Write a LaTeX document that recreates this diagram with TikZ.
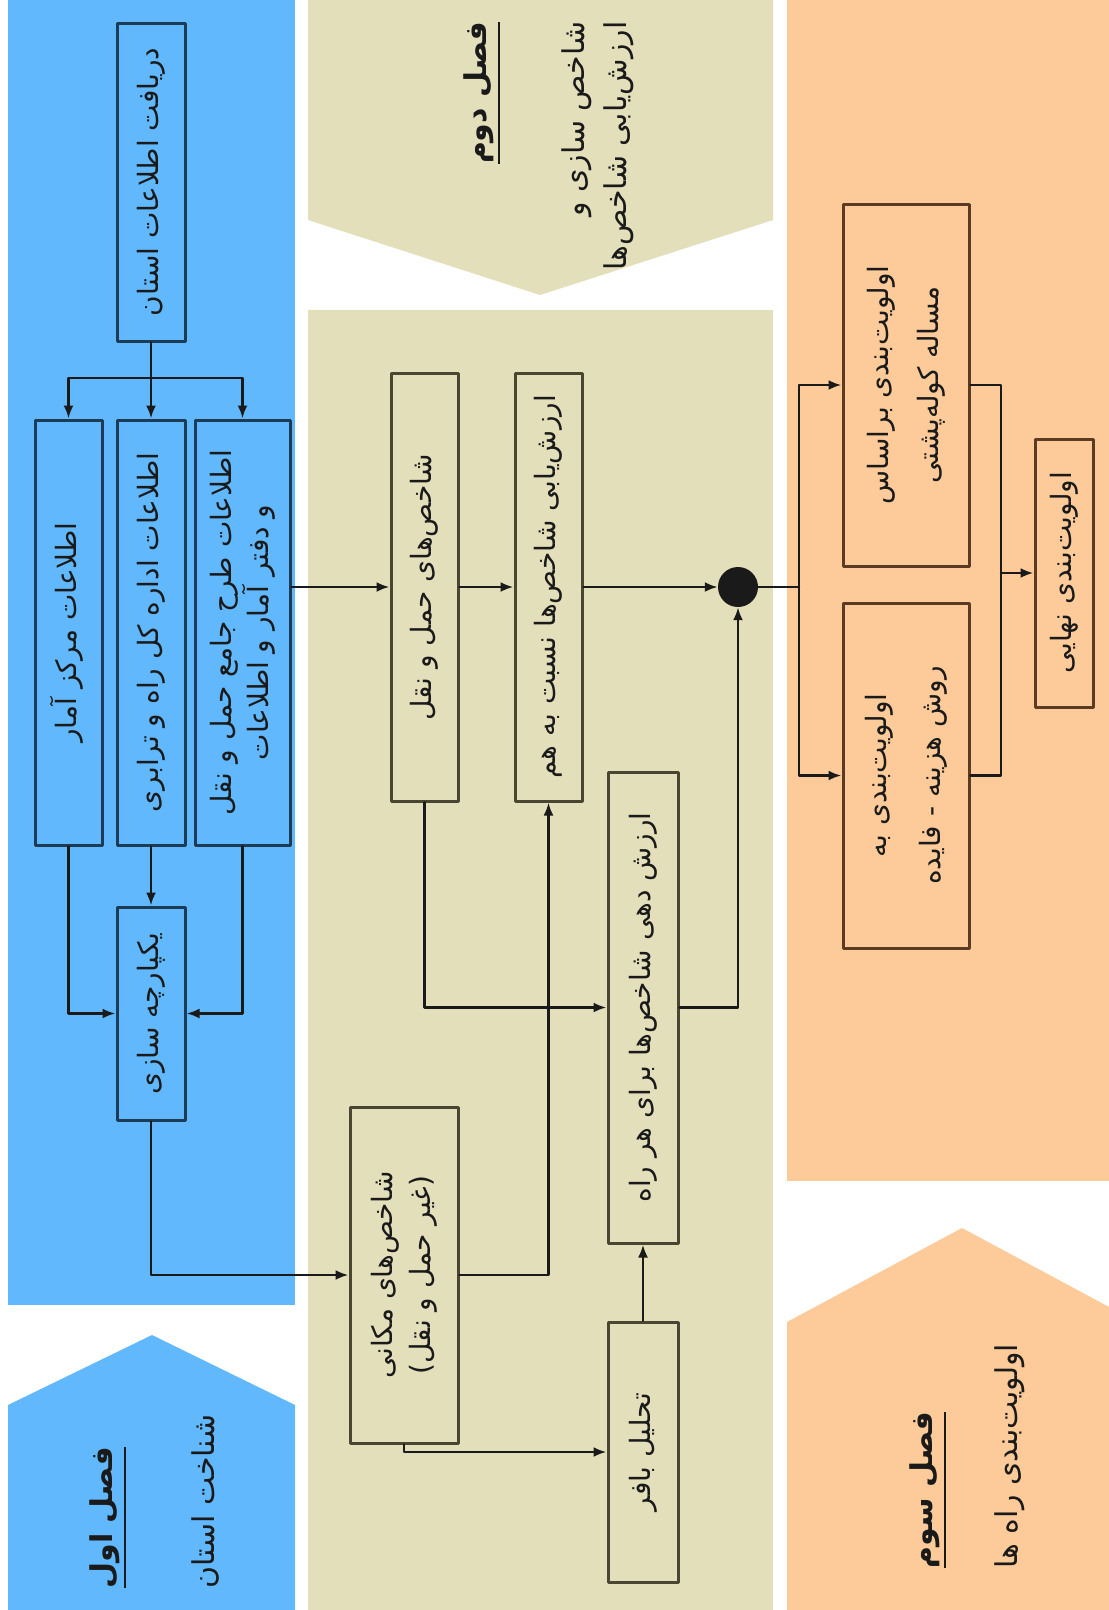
\documentclass[tikz,border=0pt]{standalone}
\usepackage{fontspec}
\usepackage{graphicx}
\usetikzlibrary{arrows.meta,calc,positioning}
\TeXXeTstate=1
\newfontfamily\persianfont[Script=Arabic]{DejaVu Sans}
\definecolor{chOneBlue}{HTML}{62B8FC}
\definecolor{chTwoSand}{HTML}{E4DFBB}
\definecolor{chThreePeach}{HTML}{FCCB99}
\definecolor{blueEdge}{HTML}{1C3B57}
\definecolor{sandEdge}{HTML}{4B4632}
\definecolor{peachEdge}{HTML}{5B3B22}
\definecolor{flowInk}{HTML}{1A1A1A}
\newcommand{\rtlline}[1]{\beginR #1\endR}
\newcommand{\vlab}[2][c]{\rotatebox{90}{\begin{tabular}{@{}#1@{}}#2\end{tabular}}}
\newcommand{\ulrtl}[1]{\setbox0\hbox{\rtlline{#1}}\vtop{\copy0\kern4pt\hrule height 2pt width\wd0}}

\begin{document}
\begin{tikzpicture}[x=1pt,y=-1pt,>={Latex[length=13pt,width=10pt]},line cap=round,line join=round]
\useasboundingbox (0,0) rectangle (1109,1610);
\path[fill=white] (0,0) rectangle (1109,1610);
\tikzset{flow/.style={draw=flowInk,line width=2.6pt},
  faText/.style={font=\persianfont\fontsize{28}{36}\selectfont,text=flowInk},
  headText/.style={font=\persianfont\fontsize{30}{38}\selectfont,text=flowInk},
  blueblock/.style={faText,draw=blueEdge,fill=chOneBlue,line width=3pt,inner sep=0pt},
  sandblock/.style={faText,draw=sandEdge,fill=chTwoSand,line width=3pt,inner sep=0pt},
  peachblock/.style={faText,draw=peachEdge,fill=chThreePeach,line width=3pt,inner sep=0pt}}
% chapter panels
\path[fill=chOneBlue] (8,0) rectangle (295,1305);
\path[fill=chOneBlue] (8,1610) -- (8,1405) -- (152,1335) -- (295,1405) -- (295,1610) -- cycle;
\path[fill=chTwoSand] (308,0) -- (773,0) -- (773,220) -- (540,295) -- (308,220) -- cycle;
\path[fill=chTwoSand] (308,310) rectangle (773,1610);
\path[fill=chThreePeach] (787,0) rectangle (1109,1181);
\path[fill=chThreePeach] (787,1610) -- (787,1322) -- (962,1228) -- (1137,1322) -- (1137,1610) -- cycle;
% chapter headings
\node[headText,anchor=south] (chOneTitle) at (106,1592) {\vlab{\bfseries\ulrtl{فصل اول}}};
\node[headText,anchor=south] (chOneSub) at (207,1592) {\vlab{\rtlline{شناخت استان}}};
\node[headText,anchor=north] (chTwoTitle) at (480,18) {\vlab{\bfseries\ulrtl{فصل دوم}}};
\node[headText,anchor=north] (chTwoSub) at (598,18) {\vlab[r]{\rtlline{شاخص سازی و}\\[4pt]\rtlline{ارزش‌یابی شاخص‌ها}}};
\node[headText,anchor=south] (chThreeTitle) at (926,1572) {\vlab{\bfseries\ulrtl{فصل سوم}}};
\node[headText,anchor=south] (chThreeSub) at (1010,1572) {\vlab{\rtlline{اولویت‌بندی راه ها}}};
% chapter one blocks
\node[blueblock,minimum width=68pt,minimum height=318pt] (collect) at (151,182) {\vlab{\rtlline{دریافت اطلاعات استان}}};
\node[blueblock,minimum width=67pt,minimum height=425pt] (statc) at (68.5,632.5) {\vlab{\rtlline{اطلاعات مرکز آمار}}};
\node[blueblock,minimum width=68pt,minimum height=425pt] (roadorg) at (151,632.5) {\vlab{\rtlline{اطلاعات اداره کل راه و ترابری}}};
\node[blueblock,minimum width=95pt,minimum height=425pt] (masterplan) at (242.5,632.5) {\vlab{\rtlline{اطلاعات طرح جامع حمل و نقل}\\\rtlline{و دفتر آمار و اطلاعات}}};
\node[blueblock,minimum width=68pt,minimum height=213pt] (integrate) at (151,1013.5) {\vlab{\rtlline{یکپارچه سازی}}};
\coordinate (split) at (151,378);
\draw[flow] (collect.south) -- (split);
\draw[flow,->] (split) -| (statc.north);
\draw[flow,->] (split) -- (roadorg.north);
\draw[flow,->] (split) -| (masterplan.north);
\draw[flow,->] (statc.south) |- (integrate.west);
\draw[flow,->] (roadorg.south) -- (integrate.north);
\draw[flow,->] (masterplan.south) |- (integrate.east);
% chapter two blocks
\node[sandblock,minimum width=67pt,minimum height=428pt] (transind) at (424.5,587) {\vlab{\rtlline{شاخص‌های حمل و نقل}}};
\node[sandblock,minimum width=67pt,minimum height=428pt] (pairwise) at (548.5,587) {\vlab{\rtlline{ارزش‌یابی شاخص‌ها نسبت به هم}}};
\node[sandblock,minimum width=108pt,minimum height=336pt] (spatial) at (404,1275) {\vlab{\rtlline{شاخص‌های مکانی}\\[2pt]\rtlline{(غیر حمل و نقل)}}};
\node[sandblock,minimum width=70pt,minimum height=471pt] (weighting) at (643,1007.5) {\vlab{\rtlline{ارزش دهی شاخص‌ها برای هر راه}}};
\node[sandblock,minimum width=70pt,minimum height=260pt] (buffer) at (643,1452) {\vlab{\rtlline{تحلیل بافر}}};
\node[circle,fill=flowInk,minimum size=40pt,inner sep=0pt] (merge) at (738,587) {};
\draw[flow,->] (integrate.south) |- (spatial.west);
\draw[flow,->] (masterplan.east |- transind.west) -- (transind.west);
\draw[flow,->] (transind.east) -- (pairwise.west);
\draw[flow,->] (pairwise.east) -- (merge.west);
\draw[flow,->] (transind.south) |- (weighting.west);
\draw[flow,->] (weighting.east) -| (merge.south);
\draw[flow,->] (spatial.east) -| (pairwise.south);
\draw[flow,->] (spatial.south) |- (buffer.west);
\draw[flow,->] (buffer.north) -- (weighting.south);
% chapter three blocks
\node[peachblock,minimum width=126pt,minimum height=362pt] (knapsack) at (906,385) {\vlab{\rtlline{اولویت‌بندی براساس}\\[14pt]\rtlline{مساله کوله‌پشتی}}};
\node[peachblock,minimum width=126pt,minimum height=345pt] (costben) at (906,775.5) {\vlab{\rtlline{اولویت‌بندی به}\\[18pt]\rtlline{روش هزینه - فایده}}};
\node[peachblock,minimum width=58pt,minimum height=268pt] (final) at (1064,573) {\vlab{\rtlline{اولویت‌بندی نهایی}}};
\coordinate (busL) at (799,587);
\coordinate (busR) at (1001,573);
\draw[flow] (merge.east) -- (busL);
\draw[flow,->] (busL) |- (knapsack.west);
\draw[flow,->] (busL) |- (costben.west);
\draw[flow] (knapsack.east) -| (busR);
\draw[flow] (costben.east) -| (busR);
\draw[flow,->] (busR) -- (final.west);
\end{tikzpicture}
\end{document}
